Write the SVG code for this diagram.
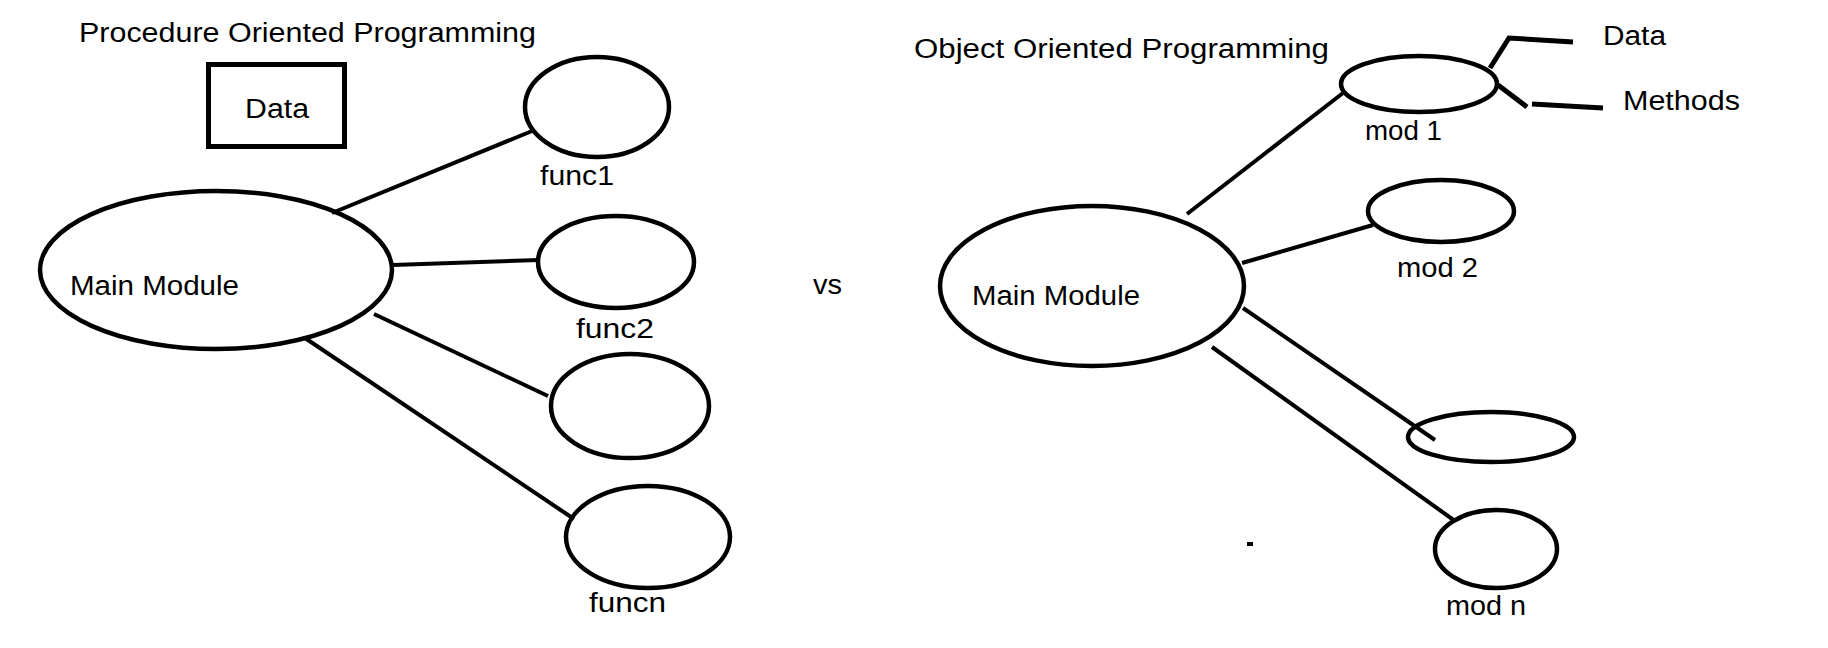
<svg xmlns="http://www.w3.org/2000/svg" width="1828" height="648" viewBox="0 0 1828 648">
<style>
.n{fill:none;stroke:#000;stroke-width:4.5}
.c{fill:none;stroke:#000;stroke-width:4;stroke-linecap:butt}
.t{stroke-width:5}
text{font-family:"Comic Sans MS","Liberation Sans",sans-serif;font-size:27px;fill:#000}
</style>
<rect width="1828" height="648" fill="#fff"/>
<text x="79" y="42" textLength="457" lengthAdjust="spacingAndGlyphs">Procedure Oriented Programming</text>
<text x="914" y="58" textLength="415" lengthAdjust="spacingAndGlyphs">Object Oriented Programming</text>
<text x="813" y="294" textLength="29" lengthAdjust="spacingAndGlyphs">vs</text>
<g id="connectors">
<line class="c" x1="332" y1="213" x2="532" y2="131"/>
<line class="c" x1="393" y1="265" x2="539" y2="260"/>
<line class="c" x1="374" y1="314" x2="548" y2="396"/>
<line class="c" x1="305" y1="338" x2="574" y2="519"/>
<line class="c" x1="1187" y1="214" x2="1343" y2="93"/>
<line class="c" x1="1242" y1="263" x2="1373" y2="225"/>
<line class="c" x1="1243" y1="308" x2="1435" y2="440"/>
<line class="c" x1="1212" y1="347" x2="1455" y2="521"/>
<polyline class="c t" points="1490,68 1509,38 1573,42"/>
<line class="c t" x1="1498" y1="85" x2="1527" y2="107"/>
<line class="c t" x1="1532" y1="104" x2="1603" y2="108"/>
<line class="c" x1="1247" y1="544" x2="1253" y2="544"/>
</g>
<g id="data-box"><rect class="n" x="208.5" y="64.5" width="136" height="82" style="stroke-width:5"/><text x="245" y="118" textLength="64" lengthAdjust="spacingAndGlyphs">Data</text></g>
<g id="main-left"><ellipse class="n" cx="216" cy="270" rx="176" ry="79"/><text x="70" y="295" textLength="169" lengthAdjust="spacingAndGlyphs">Main Module</text></g>
<g id="func1"><ellipse class="n" cx="597" cy="107" rx="72" ry="50"/><text x="540" y="185" textLength="74" lengthAdjust="spacingAndGlyphs">func1</text></g>
<g id="func2"><ellipse class="n" cx="616" cy="262" rx="78" ry="46"/><text x="576" y="338" textLength="78" lengthAdjust="spacingAndGlyphs">func2</text></g>
<g id="func3"><ellipse class="n" cx="630" cy="406" rx="79" ry="52"/></g>
<g id="funcn"><ellipse class="n" cx="648" cy="537" rx="82" ry="51"/><text x="589" y="612" textLength="77" lengthAdjust="spacingAndGlyphs">funcn</text></g>
<g id="main-right"><ellipse class="n" cx="1092" cy="286" rx="152" ry="80"/><text x="972" y="305" textLength="168" lengthAdjust="spacingAndGlyphs">Main Module</text></g>
<g id="mod1"><ellipse class="n" cx="1419" cy="84" rx="78" ry="28"/><text x="1365" y="140" textLength="77" lengthAdjust="spacingAndGlyphs">mod 1</text></g>
<g id="mod2"><ellipse class="n" cx="1441" cy="211" rx="73" ry="31"/><text x="1397" y="277" textLength="81" lengthAdjust="spacingAndGlyphs">mod 2</text></g>
<g id="mod3"><ellipse class="n" cx="1491" cy="437" rx="83" ry="25"/></g>
<g id="modn"><ellipse class="n" cx="1496" cy="549" rx="61" ry="39"/><text x="1446" y="615" textLength="80" lengthAdjust="spacingAndGlyphs">mod n</text></g>
<g id="label-data"><text x="1603" y="45" textLength="63" lengthAdjust="spacingAndGlyphs">Data</text></g>
<g id="label-methods"><text x="1623" y="110" textLength="117" lengthAdjust="spacingAndGlyphs">Methods</text></g>
</svg>
